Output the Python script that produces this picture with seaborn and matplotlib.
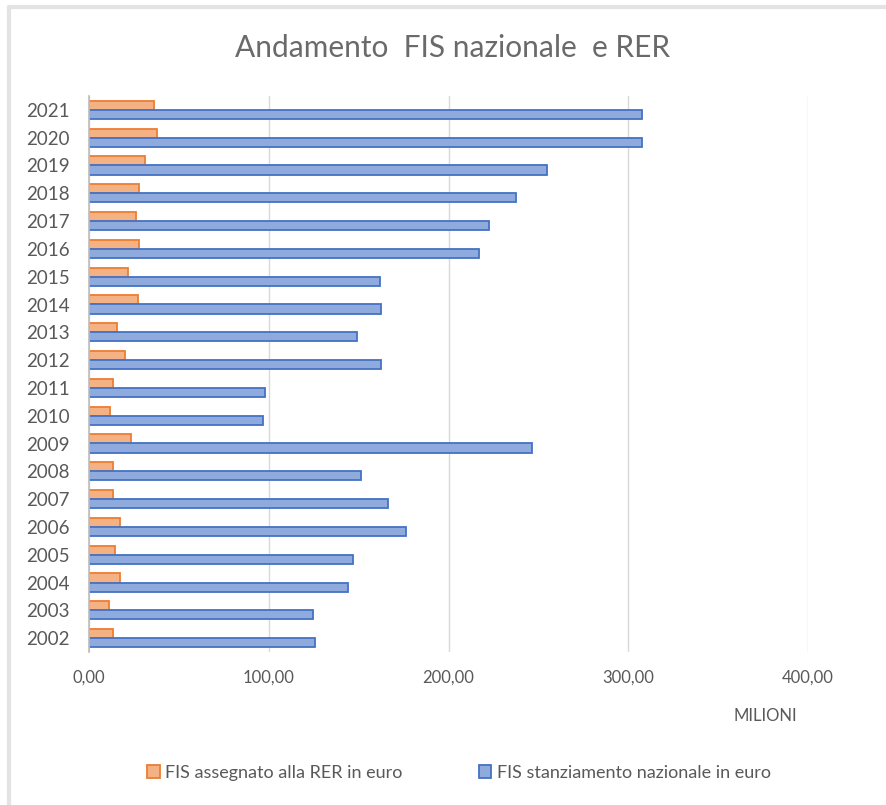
"""
Andamento FIS nazionale e RER - barre orizzontali raggruppate
"""

import pandas as pd
import matplotlib.pyplot as plt
import seaborn as sns
from matplotlib.lines import Line2D
from matplotlib.ticker import FuncFormatter

# Dati (milioni di euro), dal più recente al più vecchio
anni = [2021, 2020, 2019, 2018, 2017, 2016, 2015, 2014, 2013, 2012,
        2011, 2010, 2009, 2008, 2007, 2006, 2005, 2004, 2003, 2002]
fis_rer = [35.9, 37.8, 31.2, 27.9, 26.0, 27.9, 21.8, 27.3, 15.8, 19.9,
           13.4, 11.5, 23.6, 13.4, 13.4, 17.3, 14.3, 17.3, 11.0, 13.4]
fis_nazionale = [307.7, 307.7, 254.7, 237.4, 222.8, 217.2, 162.1, 162.7, 149.3, 162.7,
                 98.0, 96.9, 246.3, 151.5, 166.4, 176.6, 146.9, 144.1, 124.6, 125.5]
serie = ["FIS assegnato alla RER in euro", "FIS stanziamento nazionale in euro"]

colori = ["#F4B183", "#8FAADC"]
bordi = ["#ED7D31", "#4472C4"]
grigio = "#595959"

df = pd.DataFrame({
    "anno": [str(a) for a in anni] * 2,
    "valore": fis_rer + fis_nazionale,
    "serie": [serie[0]] * len(anni) + [serie[1]] * len(anni),
})

sns.set_theme(style="white")
plt.rcParams['font.family'] = ['Lato', 'DejaVu Sans']

fig = plt.figure(figsize=(8.86, 8.05), dpi=100)
ax = fig.add_axes([89 / 886, 153 / 805, 719 / 886, 556 / 805])

sns.barplot(data=df, x="valore", y="anno", hue="serie",
            order=[str(a) for a in anni], hue_order=serie, orient="h",
            palette=colori, saturation=1, width=0.66, legend=False, ax=ax)

# bordo delle barre
for cont, bc in zip(ax.containers, bordi):
    for barra in cont:
        barra.set_edgecolor(bc)
        barra.set_linewidth(1.3)

ax.set_xlim(0, 400)
ax.set_xticks([0, 100, 200, 300, 400])
ax.xaxis.set_major_formatter(FuncFormatter(lambda v, p: f"{v:.2f}".replace('.', ',')))
ax.set_xlabel("")
ax.set_ylabel("")
ax.grid(axis="x", color="#d9d9d9", linewidth=1)
ax.set_axisbelow(True)
for s in ["top", "right", "bottom"]:
    ax.spines[s].set_visible(False)
ax.spines["left"].set_color("#bfbfbf")
ax.tick_params(axis="y", length=0, pad=14, labelsize=13.5, labelcolor=grigio)
ax.tick_params(axis="x", length=0, pad=13, labelsize=12, labelcolor=grigio)

fig.text(453 / 886, 1 - 48 / 805, "Andamento  FIS nazionale  e RER",
         ha="center", va="center", fontsize=21.5, color="#6a6a6a")
fig.text(765 / 886, 1 - 716 / 805, "MILIONI", ha="center", va="center",
         fontsize=12, color=grigio)

fig.legend(ax.containers, serie, loc="center", bbox_to_anchor=(459 / 886, 1 - 773 / 805),
           ncol=2, frameon=False, fontsize=13, labelcolor=grigio,
           handlelength=0.7, handleheight=0.7, handletextpad=0.3, columnspacing=4.2)

# cornice grigia chiara
fig.add_artist(Line2D([9 / 886, 9 / 886], [0, 1 - 7 / 805], color="#e3e3e3", lw=3,
                      transform=fig.transFigure))
fig.add_artist(Line2D([9 / 886, 1], [1 - 7 / 805, 1 - 7 / 805], color="#e3e3e3", lw=3,
                      transform=fig.transFigure))

fig.savefig("out.png", dpi=100)
